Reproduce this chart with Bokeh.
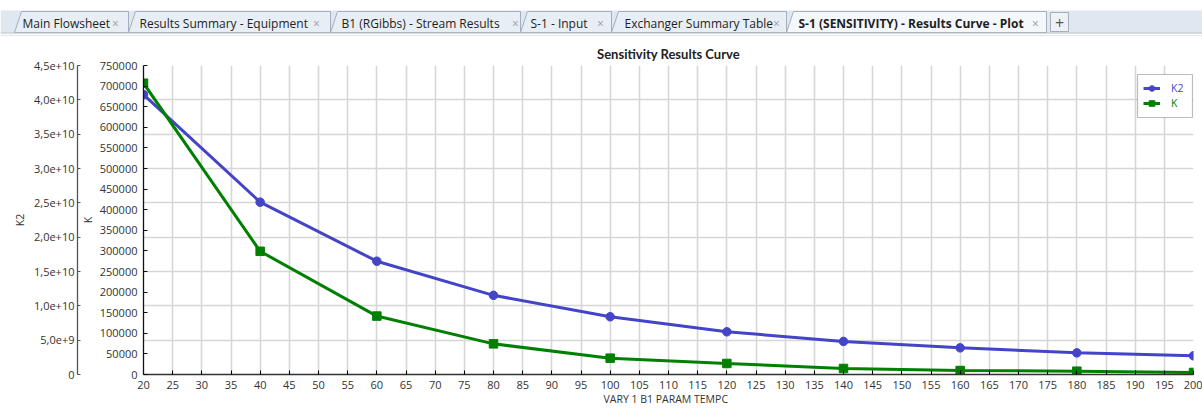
from bokeh.plotting import figure
from bokeh.models import (LinearAxis, Range1d, CustomJSTickFormatter, FixedTicker,
                          BasicTickFormatter, Legend, LegendItem, BoxAnnotation, Grid)
from bokeh.layouts import column
from bokeh.core.properties import value
from bokeh.embed import file_html
from bokeh.resources import INLINE

# ---------------- data ----------------
tab_titles = ["Main Flowsheet", "Results Summary - Equipment", "B1 (RGibbs) - Stream Results",
              "S-1 - Input", "Exchanger Summary Table"]
active_tab = "S-1 (SENSITIVITY) - Results Curve - Plot"

temp_c = [20, 40, 60, 80, 100, 120, 140, 160, 180, 200]
k2_values = [4.076e10, 2.51e10, 1.65e10, 1.153e10, 0.841e10, 0.622e10, 0.482e10, 0.388e10, 0.315e10, 0.272e10]
k_values = [707000, 299000, 141800, 74400, 39700, 26800, 14600, 9700, 8000, 4900]

x_ticks = list(range(20, 201, 5))
k2_ticks = [i * 5e9 for i in range(10)]
k_ticks = list(range(0, 750001, 50000))

# ---------------- styling ----------------
BLUE = "#4444c8"
GREEN = "#008000"
FONT = "Open Sans"
TICK_COLOR = "#333333"
W = 1202
TAB_H = 36
CH_H = 372
ML, MR, MT, MB = 143, 9, 29, 34
FW = W - ML - MR
FH = CH_H - MT - MB

# ---------------- tab bar ----------------
tb = figure(width=W, height=TAB_H, x_range=Range1d(0, W), y_range=Range1d(0, TAB_H),
            output_backend="svg", toolbar_location=None, min_border=0,
            outline_line_color=None)
tb.frame_align = False
tb.axis.visible = False
tb.grid.visible = False

tab_starts = [14, 128, 330, 520, 611, 786]
tab_ends = [128, 330, 520, 611, 786, 1046]
text_x = [22, 139, 341, 530, 624, 798]
close_x = [115, 316, 515, 600, 776, 1035]

tb.quad(left=[0], right=[W], bottom=[4], top=[26], fill_color="#dfe7f1", line_color=None)
xs = [[s, s + 7, e, e] for s, e in zip(tab_starts, tab_ends)]
ys = [[4, 25, 25, 4] for _ in tab_starts]
fills = ["#e8eef5"] * 5 + ["#f4f7fb"]
tb.patches(xs=xs, ys=ys, fill_color=fills, line_color="#a5afbb", line_width=1)
tb.quad(left=[1050], right=[1068], bottom=[5], top=[24], fill_color="#eef2f7", line_color="#a5afbb")
tb.text(x=text_x[:5], y=[13] * 5, text=tab_titles, text_font=value(FONT), text_font_size="12px",
        text_baseline="middle", text_color="#1e1e1e")
tb.text(x=[text_x[5]], y=[13], text=[active_tab], text_font=value(FONT), text_font_size="12px",
        text_font_style="bold", text_baseline="middle", text_color="#1e1e1e")
tb.text(x=close_x, y=[13] * 6, text=["\u00d7"] * 6, text_font=value(FONT), text_font_size="12px",
        text_baseline="middle", text_align="center", text_color="#9a9a9a")
tb.text(x=[1059], y=[14], text=["+"], text_font=value(FONT), text_font_size="16px",
        text_baseline="middle", text_align="center", text_color="#555555")
tb.segment(x0=[0, 0], x1=[W, W], y0=[3.5, 0.5], y1=[3.5, 0.5], line_color=["#b2b8c0", "#c6cad0"], line_width=1)

# ---------------- chart ----------------
p = figure(width=W, height=CH_H, x_range=Range1d(20, 200), y_range=Range1d(0, 4.5e10),
           output_backend="svg", toolbar_location=None, y_axis_location=None,
           min_border_left=ML, min_border_right=MR, min_border_top=MT, min_border_bottom=MB,
           outline_line_color=None, title="Sensitivity Results Curve")
p.extra_y_ranges = {"k": Range1d(0, 750000)}
p.title.align = "center"
p.title.text_font = "Lato"
p.title.text_font_size = "13px"
p.title.text_font_style = "bold"
p.title.text_color = "#222222"
p.title.standoff = 7

k_axis = LinearAxis(y_range_name="k", ticker=FixedTicker(ticks=k_ticks),
                    formatter=BasicTickFormatter(use_scientific=False), axis_label="K")
k2_axis = LinearAxis(ticker=FixedTicker(ticks=k2_ticks), axis_label="K2",
                     formatter=CustomJSTickFormatter(code="""
if (tick == 0) { return "0"; }
const e = Math.floor(Math.log10(Math.abs(tick)) + 1e-9);
const m = tick / Math.pow(10, e);
return m.toFixed(1).replace(".", ",") + "e+" + e;
"""))
for ax, tin, lstand, astand, lc in [(k_axis, 4, 6, 2, "#111111"), (k2_axis, 3, 3, 4, "#555555")]:
    ax.major_tick_in = tin
    ax.major_tick_out = 0
    ax.minor_tick_line_color = None
    ax.axis_line_color = lc
    ax.major_tick_line_color = lc
    ax.axis_line_width = 1.3
    ax.major_label_text_font = FONT
    ax.major_label_text_font_size = "11px"
    ax.major_label_text_color = TICK_COLOR
    ax.major_label_standoff = lstand
    ax.axis_label_text_font = FONT
    ax.axis_label_text_font_size = "10.5px"
    ax.axis_label_text_font_style = "normal"
    ax.axis_label_text_color = TICK_COLOR
    ax.axis_label_standoff = astand
p.add_layout(k_axis, "left")
p.add_layout(k2_axis, "left")

xa = p.xaxis[0]
xa.ticker = FixedTicker(ticks=x_ticks)
xa.axis_label = "VARY   1 B1 PARAM TEMPC"
xa.major_tick_in = 4
xa.major_tick_out = 0
xa.minor_tick_line_color = None
xa.axis_line_color = "#333333"
xa.axis_line_width = 1.5
xa.major_label_text_font = FONT
xa.major_label_text_font_size = "11px"
xa.major_label_text_color = TICK_COLOR
xa.major_label_standoff = 6
xa.axis_label_text_font = FONT
xa.axis_label_text_font_size = "10.5px"
xa.axis_label_text_font_style = "normal"
xa.axis_label_text_color = TICK_COLOR
xa.axis_label_standoff = 0

p.xgrid.ticker = FixedTicker(ticks=x_ticks)
p.xgrid.grid_line_color = "#d6d6d6"
p.xgrid.grid_line_width = 1.6
p.ygrid.visible = False
yg = Grid(dimension=1, ticker=FixedTicker(ticks=k2_ticks), grid_line_color="#d6d6d6", grid_line_width=1.6)
p.add_layout(yg)

l1 = p.line(temp_c, k2_values, line_color=BLUE, line_width=3)
s1 = p.scatter(temp_c, k2_values, marker="circle", size=8.5, fill_color=BLUE, line_color=BLUE)
l2 = p.line(temp_c, k_values, line_color=GREEN, line_width=3, y_range_name="k")
s2 = p.scatter(temp_c, k_values, marker="square", size=8.5, fill_color=GREEN, line_color=GREEN,
               y_range_name="k")

# legend box
box = BoxAnnotation(left=1137, right=1192, top=38, bottom=81,
                    left_units="canvas", right_units="canvas", top_units="canvas", bottom_units="canvas",
                    fill_color="white", fill_alpha=1, line_color="#222222", line_width=1.2)
p.add_layout(box)
for lab, rends, col, row_off in [("K2", [l1, s1], BLUE, 23), ("K", [l2, s2], GREEN, 38)]:
    leg = Legend(items=[LegendItem(label=lab, renderers=rends)],
                 location=(1143 - ML, FH - row_off - 7),
                 border_line_color=None, background_fill_alpha=0, padding=0, margin=0,
                 spacing=0, glyph_width=17, glyph_height=14, label_height=14,
                 label_standoff=11, label_text_font=FONT, label_text_font_size="10.5px",
                 label_text_color=col)
    p.add_layout(leg, "center")

layout = column(tb, p, spacing=0)
open("out.html", "w").write(file_html(layout, INLINE))
